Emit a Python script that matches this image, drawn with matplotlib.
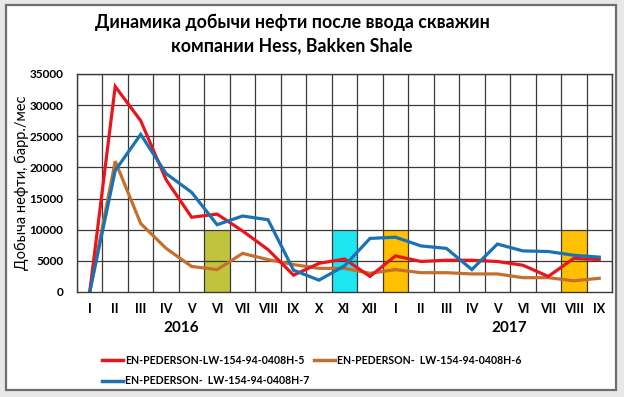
import matplotlib
matplotlib.use("Agg")
import matplotlib.pyplot as plt
from matplotlib.patches import Rectangle
from matplotlib.lines import Line2D
import numpy as np

plt.rcParams['font.family'] = ['Lato', 'DejaVu Sans']

months = ["I", "II", "III", "IV", "V", "VI", "VII", "VIII", "IX", "X", "XI", "XII",
          "I", "II", "III", "IV", "V", "VI", "VII", "VIII", "IX"]
years = ["2016", "2017"]
year_pos = [3.6, 16.45]

h5 = [0, 33000, 27500, 18000, 12000, 12500, 9800, 6800, 2700, 4600, 5300, 2500,
      5800, 4900, 5100, 5100, 4900, 4300, 2500, 5400, 5200]
h6 = [0, 21000, 11000, 7000, 4100, 3600, 6200, 5200, 4400, 3800, 3800, 3000,
      3600, 3100, 3100, 2900, 2900, 2300, 2300, 1800, 2200]
h7 = [0, 19500, 25300, 19000, 16000, 10800, 12200, 11600, 3500, 1900, 4200, 8600,
      8800, 7400, 7000, 3600, 7700, 6600, 6500, 5900, 5600]

names = ["EN-PEDERSON-LW-154-94-0408H-5",
         "EN-PEDERSON-  LW-154-94-0408H-6",
         "EN-PEDERSON-  LW-154-94-0408H-7"]
colors = ["#E8161C", "#C4702C", "#1A72B4"]

hl_idx = [5, 10, 12, 19]
hl_val = [10000, 10000, 10000, 10000]
hl_col = ["#BFC43C", "#1EE6F0", "#FFC000", "#FFC000"]

W, H = 624, 397
fig = plt.figure(figsize=(W / 100, H / 100), dpi=100, facecolor="#E8E8E8")
fig.patches.append(Rectangle((6 / W, 1 - 390 / H), 610 / W, 385 / H,
                             transform=fig.transFigure, facecolor="white",
                             edgecolor="#6E6E6E", linewidth=1.6, zorder=-5))

ax = fig.add_axes([77 / W, 1 - 292 / H, (612 - 77) / W, (292 - 74) / H])
ax.set_facecolor("white")
x = np.arange(len(months))

ax.bar(hl_idx, hl_val, width=1.0, color=hl_col, zorder=1)

ax.plot(x, h6, color=colors[1], lw=2.3, zorder=3, solid_joinstyle="miter")
ax.plot(x, h5, color=colors[0], lw=2.3, zorder=4, solid_joinstyle="miter")
ax.plot(x, h7, color=colors[2], lw=2.3, zorder=5, solid_joinstyle="miter")

ax.set_xlim(-0.5, len(months) - 0.5)
ax.set_ylim(0, 35000)
ax.set_yticks(np.arange(0, 35001, 5000))
ax.set_yticklabels([str(v) for v in range(0, 35001, 5000)], fontsize=8.5, fontweight="bold")
ax.set_xticks(x)
ax.set_xticklabels(months, fontsize=9, fontweight="bold")
ax.tick_params(axis="x", which="both", length=0, pad=8)
ax.tick_params(axis="y", length=0, pad=10)
ax.grid(False)
for xv in np.arange(-0.5, len(months)):
    ax.axvline(xv, color="#3A3A3A", lw=0.9, zorder=2)
for yv in range(5000, 35001, 5000):
    ax.axhline(yv, color="#3A3A3A", lw=0.9, zorder=2)
for s in ax.spines.values():
    s.set_color("#3A3A3A")
    s.set_linewidth(1.0)
    s.set_zorder(6)

for yr, p in zip(years, year_pos):
    ax.text(p, 1 - (328 - 74) / (292 - 74), yr, transform=ax.get_xaxis_transform(),
            ha="center", va="center", fontsize=11, fontweight="bold")

fig.text(22 / W, 1 - 183 / H, "Добыча нефти, барр./мес", rotation=90, ha="center",
         va="center", fontsize=10.5)

fig.text(292 / W, 1 - 22 / H, "Динамика добычи нефти после ввода скважин",
         ha="center", va="center", fontsize=12.8, fontweight="bold")
fig.text(292 / W, 1 - 46 / H, "компании Hess, Bakken Shale",
         ha="center", va="center", fontsize=12.8, fontweight="bold")

# manual legend layout (pixel positions of entries)
leg_pos = [(102, 360), (314, 360), (102, 381)]
for (px, py), c, n in zip(leg_pos, colors, names):
    fig.add_artist(Line2D([px / W, (px + 21) / W], [1 - py / H, 1 - py / H],
                          transform=fig.transFigure, color=c, lw=2.5))
    fig.text((px + 23) / W, 1 - py / H, n, ha="left", va="center",
             fontsize=7.6, fontweight="bold")

fig.savefig("out.png", dpi=100, facecolor=fig.get_facecolor())
